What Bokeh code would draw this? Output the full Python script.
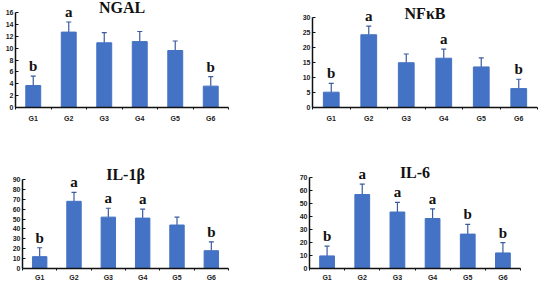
from bokeh.plotting import figure
from bokeh.models import ColumnDataSource, Whisker, LabelSet, Label, FixedTicker, TeeHead
from bokeh.layouts import column, row
from bokeh.embed import file_html
from bokeh.resources import INLINE

groups = ["G1", "G2", "G3", "G4", "G5", "G6"]

ngal_mean = [3.7, 12.7, 10.9, 11.1, 9.6, 3.6]
ngal_err = [1.6, 1.7, 1.7, 1.7, 1.6, 1.6]
ngal_sig = ["b", "a", "", "", "", "b"]

nfkb_mean = [5.1, 24.2, 14.9, 16.4, 13.5, 6.3]
nfkb_err = [2.9, 2.9, 2.9, 3.0, 3.0, 3.1]
nfkb_sig = ["b", "a", "", "a", "", "b"]

il1b_mean = [12, 68, 52, 51, 44, 18]
il1b_err = [9, 9, 9, 9, 8, 9]
il1b_sig = ["b", "a", "a", "a", "", "b"]

il6_mean = [9.7, 57, 43.5, 38.5, 26.5, 12]
il6_err = [7.5, 8, 7.5, 7.5, 7.5, 8]
il6_sig = ["b", "a", "a", "a", "b", "b"]

BAR = "#4472c4"
ERR = "#3b5b9b"


def panel(title, mean, err, sig, ymax, ystep, w, h, bl, br, top_px, bottom_px, title_px, xstand):
    idx = list(range(1, len(groups) + 1))
    upper = [m + e for m, e in zip(mean, err)]
    src = ColumnDataSource(dict(x=idx, top=mean, upper=upper, sig=sig))
    # frame starts at the top of the figure; the axis line is bounded to [0, ymax]
    yend = ymax * bottom_px / (bottom_px - top_px)
    p = figure(width=w, height=h, x_range=(0.5, len(groups) + 0.5), y_range=(0, yend),
               output_backend="svg", toolbar_location=None,
               min_border_left=bl, min_border_right=br, min_border_top=0,
               min_border_bottom=h - bottom_px)
    p.outline_line_color = None
    p.grid.visible = False
    p.background_fill_color = None
    p.border_fill_color = None
    p.vbar(x="x", top="top", width=0.42, source=src, fill_color=BAR, line_color=BAR)
    p.add_layout(Whisker(source=src, base="x", lower="top", upper="upper",
                         line_color=ERR, line_width=1.2, lower_head=None,
                         upper_head=TeeHead(size=5, line_color=ERR, line_width=1.2)))
    p.add_layout(LabelSet(source=src, x="x", y="upper", text="sig", y_offset=2,
                          text_align="center", text_baseline="bottom",
                          text_font="Liberation Serif", text_font_style="bold",
                          text_font_size="15px", text_color="#111111"))
    p.add_layout(Label(x=(len(groups) + 1) / 2, y=ymax, text=title, y_offset=top_px - title_px,
                       text_align="center", text_baseline="middle",
                       text_font="Liberation Serif", text_font_style="bold",
                       text_font_size="16px", text_color="#111111"))
    # axes
    p.xaxis.ticker = FixedTicker(ticks=idx, minor_ticks=[i + 0.5 for i in range(0, len(groups) + 1)])
    p.xaxis.major_label_overrides = {i: g for i, g in zip(idx, groups)}
    p.xaxis.major_tick_out = 0
    p.xaxis.major_tick_in = 0
    p.xaxis.minor_tick_out = 2
    p.xaxis.minor_tick_in = 0
    p.yaxis.ticker = FixedTicker(ticks=list(range(0, ymax + 1, ystep)))
    p.yaxis.bounds = (0, ymax)
    p.yaxis.major_tick_in = 3
    p.yaxis.major_tick_out = 0
    p.yaxis.minor_tick_in = 0
    p.yaxis.minor_tick_out = 0
    for ax in (p.xaxis, p.yaxis):
        ax.axis_line_color = "#111111"
        ax.axis_line_width = 1.5
        ax.major_tick_line_color = "#111111"
        ax.minor_tick_line_color = "#111111"
        ax.major_label_text_font = "Liberation Sans"
        ax.major_label_text_font_style = "bold"
        ax.major_label_text_font_size = "7px"
        ax.major_label_text_color = "#222222"
        ax.major_label_standoff = 2
    p.xaxis.major_label_standoff = xstand
    return p


p1 = panel("NGAL", ngal_mean, ngal_err, ngal_sig, 16, 2, 270, 140, 15, 42, 12, 107, 7, 5)
p2 = panel("NFκB", nfkb_mean, nfkb_err, nfkb_sig, 30, 5, 269, 140, 42, 2, 17, 108, 13, 5)
p3 = panel("IL-1β", il1b_mean, il1b_err, il1b_sig, 90, 10, 270, 143, 22, 42, 40, 131, 35, 3)
p4 = panel("IL-6", il6_mean, il6_err, il6_sig, 70, 10, 269, 143, 39, 19, 38, 131, 33, 3)

layout = column(row(p1, p2), row(p3, p4))
open("out.html", "w").write(file_html(layout, INLINE))
